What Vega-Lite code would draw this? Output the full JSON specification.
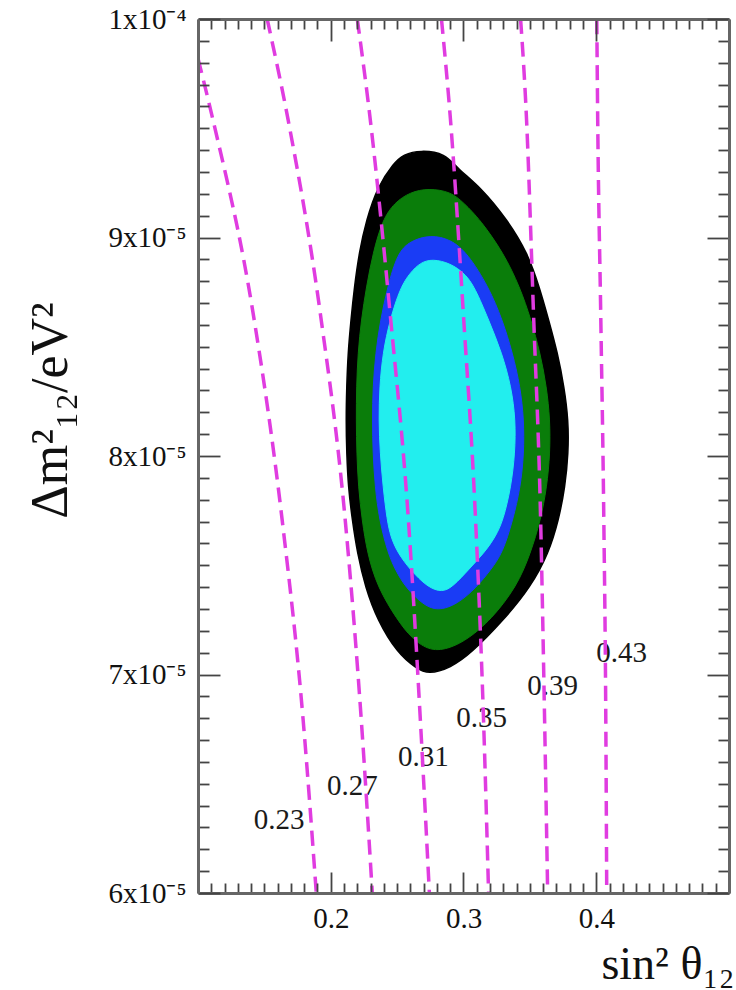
{
  "$schema": "https://vega.github.io/schema/vega-lite/v6.json",
  "width": 531,
  "height": 874,
  "autosize": {"type": "none"},
  "padding": {"left": 198, "top": 19, "right": 7, "bottom": 97},
  "background": "#ffffff",
  "config": {"view": {"stroke": null}, "font": "Liberation Serif"},
  "datasets": {
    "contours": [
      {"c": "black", "i": 1, "s2": 0.2675, "dm2": 9.400e-5},
      {"c": "black", "i": 2, "s2": 0.2864, "dm2": 9.385e-5},
      {"c": "black", "i": 3, "s2": 0.2955, "dm2": 9.315e-5},
      {"c": "black", "i": 4, "s2": 0.3128, "dm2": 9.231e-5},
      {"c": "black", "i": 5, "s2": 0.3332, "dm2": 9.080e-5},
      {"c": "black", "i": 6, "s2": 0.3483, "dm2": 8.929e-5},
      {"c": "black", "i": 7, "s2": 0.3572, "dm2": 8.773e-5},
      {"c": "black", "i": 8, "s2": 0.3642, "dm2": 8.622e-5},
      {"c": "black", "i": 9, "s2": 0.3709, "dm2": 8.471e-5},
      {"c": "black", "i": 10, "s2": 0.3758, "dm2": 8.316e-5},
      {"c": "black", "i": 11, "s2": 0.3790, "dm2": 8.165e-5},
      {"c": "black", "i": 12, "s2": 0.3790, "dm2": 8.014e-5},
      {"c": "black", "i": 13, "s2": 0.3765, "dm2": 7.858e-5},
      {"c": "black", "i": 14, "s2": 0.3717, "dm2": 7.707e-5},
      {"c": "black", "i": 15, "s2": 0.3642, "dm2": 7.556e-5},
      {"c": "black", "i": 16, "s2": 0.3506, "dm2": 7.400e-5},
      {"c": "black", "i": 17, "s2": 0.3302, "dm2": 7.249e-5},
      {"c": "black", "i": 18, "s2": 0.3060, "dm2": 7.098e-5},
      {"c": "black", "i": 19, "s2": 0.2902, "dm2": 7.030e-5},
      {"c": "black", "i": 20, "s2": 0.2736, "dm2": 7.000e-5},
      {"c": "black", "i": 21, "s2": 0.2640, "dm2": 7.030e-5},
      {"c": "black", "i": 22, "s2": 0.2502, "dm2": 7.098e-5},
      {"c": "black", "i": 23, "s2": 0.2351, "dm2": 7.249e-5},
      {"c": "black", "i": 24, "s2": 0.2260, "dm2": 7.400e-5},
      {"c": "black", "i": 25, "s2": 0.2200, "dm2": 7.556e-5},
      {"c": "black", "i": 26, "s2": 0.2162, "dm2": 7.707e-5},
      {"c": "black", "i": 27, "s2": 0.2132, "dm2": 7.858e-5},
      {"c": "black", "i": 28, "s2": 0.2120, "dm2": 8.014e-5},
      {"c": "black", "i": 29, "s2": 0.2115, "dm2": 8.165e-5},
      {"c": "black", "i": 30, "s2": 0.2120, "dm2": 8.316e-5},
      {"c": "black", "i": 31, "s2": 0.2130, "dm2": 8.471e-5},
      {"c": "black", "i": 32, "s2": 0.2152, "dm2": 8.622e-5},
      {"c": "black", "i": 33, "s2": 0.2178, "dm2": 8.773e-5},
      {"c": "black", "i": 34, "s2": 0.2213, "dm2": 8.929e-5},
      {"c": "black", "i": 35, "s2": 0.2268, "dm2": 9.080e-5},
      {"c": "black", "i": 36, "s2": 0.2351, "dm2": 9.231e-5},
      {"c": "black", "i": 37, "s2": 0.2475, "dm2": 9.341e-5},
      {"c": "black", "i": 38, "s2": 0.2547, "dm2": 9.380e-5},
      {"c": "green", "i": 1, "s2": 0.2736, "dm2": 9.225e-5},
      {"c": "green", "i": 2, "s2": 0.2902, "dm2": 9.210e-5},
      {"c": "green", "i": 3, "s2": 0.3000, "dm2": 9.160e-5},
      {"c": "green", "i": 4, "s2": 0.3128, "dm2": 9.080e-5},
      {"c": "green", "i": 5, "s2": 0.3302, "dm2": 8.929e-5},
      {"c": "green", "i": 6, "s2": 0.3425, "dm2": 8.773e-5},
      {"c": "green", "i": 7, "s2": 0.3510, "dm2": 8.622e-5},
      {"c": "green", "i": 8, "s2": 0.3578, "dm2": 8.471e-5},
      {"c": "green", "i": 9, "s2": 0.3626, "dm2": 8.316e-5},
      {"c": "green", "i": 10, "s2": 0.3652, "dm2": 8.165e-5},
      {"c": "green", "i": 11, "s2": 0.3652, "dm2": 8.014e-5},
      {"c": "green", "i": 12, "s2": 0.3628, "dm2": 7.858e-5},
      {"c": "green", "i": 13, "s2": 0.3581, "dm2": 7.707e-5},
      {"c": "green", "i": 14, "s2": 0.3506, "dm2": 7.556e-5},
      {"c": "green", "i": 15, "s2": 0.3400, "dm2": 7.400e-5},
      {"c": "green", "i": 16, "s2": 0.3204, "dm2": 7.249e-5},
      {"c": "green", "i": 17, "s2": 0.3040, "dm2": 7.165e-5},
      {"c": "green", "i": 18, "s2": 0.2902, "dm2": 7.120e-5},
      {"c": "green", "i": 19, "s2": 0.2751, "dm2": 7.105e-5},
      {"c": "green", "i": 20, "s2": 0.2610, "dm2": 7.165e-5},
      {"c": "green", "i": 21, "s2": 0.2502, "dm2": 7.249e-5},
      {"c": "green", "i": 22, "s2": 0.2351, "dm2": 7.400e-5},
      {"c": "green", "i": 23, "s2": 0.2275, "dm2": 7.556e-5},
      {"c": "green", "i": 24, "s2": 0.2236, "dm2": 7.707e-5},
      {"c": "green", "i": 25, "s2": 0.2208, "dm2": 7.858e-5},
      {"c": "green", "i": 26, "s2": 0.2196, "dm2": 8.014e-5},
      {"c": "green", "i": 27, "s2": 0.2192, "dm2": 8.165e-5},
      {"c": "green", "i": 28, "s2": 0.2194, "dm2": 8.316e-5},
      {"c": "green", "i": 29, "s2": 0.2205, "dm2": 8.471e-5},
      {"c": "green", "i": 30, "s2": 0.2230, "dm2": 8.622e-5},
      {"c": "green", "i": 31, "s2": 0.2268, "dm2": 8.773e-5},
      {"c": "green", "i": 32, "s2": 0.2318, "dm2": 8.929e-5},
      {"c": "green", "i": 33, "s2": 0.2389, "dm2": 9.080e-5},
      {"c": "green", "i": 34, "s2": 0.2480, "dm2": 9.160e-5},
      {"c": "green", "i": 35, "s2": 0.2600, "dm2": 9.208e-5},
      {"c": "blue", "i": 1, "s2": 0.2751, "dm2": 9.012e-5},
      {"c": "blue", "i": 2, "s2": 0.2902, "dm2": 8.992e-5},
      {"c": "blue", "i": 3, "s2": 0.3030, "dm2": 8.929e-5},
      {"c": "blue", "i": 4, "s2": 0.3190, "dm2": 8.773e-5},
      {"c": "blue", "i": 5, "s2": 0.3294, "dm2": 8.622e-5},
      {"c": "blue", "i": 6, "s2": 0.3370, "dm2": 8.471e-5},
      {"c": "blue", "i": 7, "s2": 0.3428, "dm2": 8.316e-5},
      {"c": "blue", "i": 8, "s2": 0.3455, "dm2": 8.165e-5},
      {"c": "blue", "i": 9, "s2": 0.3455, "dm2": 8.014e-5},
      {"c": "blue", "i": 10, "s2": 0.3430, "dm2": 7.858e-5},
      {"c": "blue", "i": 11, "s2": 0.3372, "dm2": 7.707e-5},
      {"c": "blue", "i": 12, "s2": 0.3295, "dm2": 7.556e-5},
      {"c": "blue", "i": 13, "s2": 0.3204, "dm2": 7.478e-5},
      {"c": "blue", "i": 14, "s2": 0.3100, "dm2": 7.400e-5},
      {"c": "blue", "i": 15, "s2": 0.2955, "dm2": 7.322e-5},
      {"c": "blue", "i": 16, "s2": 0.2804, "dm2": 7.290e-5},
      {"c": "blue", "i": 17, "s2": 0.2690, "dm2": 7.322e-5},
      {"c": "blue", "i": 18, "s2": 0.2562, "dm2": 7.400e-5},
      {"c": "blue", "i": 19, "s2": 0.2487, "dm2": 7.478e-5},
      {"c": "blue", "i": 20, "s2": 0.2430, "dm2": 7.556e-5},
      {"c": "blue", "i": 21, "s2": 0.2366, "dm2": 7.707e-5},
      {"c": "blue", "i": 22, "s2": 0.2334, "dm2": 7.858e-5},
      {"c": "blue", "i": 23, "s2": 0.2318, "dm2": 8.014e-5},
      {"c": "blue", "i": 24, "s2": 0.2313, "dm2": 8.165e-5},
      {"c": "blue", "i": 25, "s2": 0.2318, "dm2": 8.316e-5},
      {"c": "blue", "i": 26, "s2": 0.2338, "dm2": 8.471e-5},
      {"c": "blue", "i": 27, "s2": 0.2374, "dm2": 8.622e-5},
      {"c": "blue", "i": 28, "s2": 0.2428, "dm2": 8.773e-5},
      {"c": "blue", "i": 29, "s2": 0.2502, "dm2": 8.929e-5},
      {"c": "blue", "i": 30, "s2": 0.2600, "dm2": 8.985e-5},
      {"c": "cyan", "i": 1, "s2": 0.2766, "dm2": 8.902e-5},
      {"c": "cyan", "i": 2, "s2": 0.2902, "dm2": 8.882e-5},
      {"c": "cyan", "i": 3, "s2": 0.3010, "dm2": 8.835e-5},
      {"c": "cyan", "i": 4, "s2": 0.3085, "dm2": 8.773e-5},
      {"c": "cyan", "i": 5, "s2": 0.3190, "dm2": 8.622e-5},
      {"c": "cyan", "i": 6, "s2": 0.3290, "dm2": 8.471e-5},
      {"c": "cyan", "i": 7, "s2": 0.3360, "dm2": 8.316e-5},
      {"c": "cyan", "i": 8, "s2": 0.3392, "dm2": 8.165e-5},
      {"c": "cyan", "i": 9, "s2": 0.3388, "dm2": 8.014e-5},
      {"c": "cyan", "i": 10, "s2": 0.3358, "dm2": 7.858e-5},
      {"c": "cyan", "i": 11, "s2": 0.3300, "dm2": 7.707e-5},
      {"c": "cyan", "i": 12, "s2": 0.3240, "dm2": 7.629e-5},
      {"c": "cyan", "i": 13, "s2": 0.3155, "dm2": 7.556e-5},
      {"c": "cyan", "i": 14, "s2": 0.3035, "dm2": 7.478e-5},
      {"c": "cyan", "i": 15, "s2": 0.2925, "dm2": 7.405e-5},
      {"c": "cyan", "i": 16, "s2": 0.2840, "dm2": 7.375e-5},
      {"c": "cyan", "i": 17, "s2": 0.2728, "dm2": 7.400e-5},
      {"c": "cyan", "i": 18, "s2": 0.2600, "dm2": 7.478e-5},
      {"c": "cyan", "i": 19, "s2": 0.2505, "dm2": 7.556e-5},
      {"c": "cyan", "i": 20, "s2": 0.2452, "dm2": 7.629e-5},
      {"c": "cyan", "i": 21, "s2": 0.2424, "dm2": 7.707e-5},
      {"c": "cyan", "i": 22, "s2": 0.2394, "dm2": 7.858e-5},
      {"c": "cyan", "i": 23, "s2": 0.2372, "dm2": 8.014e-5},
      {"c": "cyan", "i": 24, "s2": 0.2362, "dm2": 8.165e-5},
      {"c": "cyan", "i": 25, "s2": 0.2368, "dm2": 8.316e-5},
      {"c": "cyan", "i": 26, "s2": 0.2392, "dm2": 8.471e-5},
      {"c": "cyan", "i": 27, "s2": 0.2445, "dm2": 8.622e-5},
      {"c": "cyan", "i": 28, "s2": 0.2525, "dm2": 8.773e-5},
      {"c": "cyan", "i": 29, "s2": 0.2600, "dm2": 8.840e-5},
      {"c": "cyan", "i": 30, "s2": 0.2675, "dm2": 8.885e-5}
    ],
    "isolines": [
      {"c": "0.23", "i": 1, "s2": 0.1000, "dm2": 9.82e-5},
      {"c": "0.23", "i": 2, "s2": 0.1113, "dm2": 9.538e-5},
      {"c": "0.23", "i": 3, "s2": 0.1415, "dm2": 8.654e-5},
      {"c": "0.23", "i": 4, "s2": 0.1634, "dm2": 7.707e-5},
      {"c": "0.23", "i": 5, "s2": 0.1792, "dm2": 6.792e-5},
      {"c": "0.23", "i": 6, "s2": 0.1891, "dm2": 6.0e-5},
      {"c": "0.27", "i": 1, "s2": 0.1521, "dm2": 1.0e-4},
      {"c": "0.27", "i": 2, "s2": 0.1679, "dm2": 9.538e-5},
      {"c": "0.27", "i": 3, "s2": 0.1921, "dm2": 8.654e-5},
      {"c": "0.27", "i": 4, "s2": 0.2109, "dm2": 7.707e-5},
      {"c": "0.27", "i": 5, "s2": 0.2230, "dm2": 6.792e-5},
      {"c": "0.27", "i": 6, "s2": 0.2313, "dm2": 6.0e-5},
      {"c": "0.31", "i": 1, "s2": 0.2200, "dm2": 1.0e-4},
      {"c": "0.31", "i": 2, "s2": 0.2298, "dm2": 9.538e-5},
      {"c": "0.31", "i": 3, "s2": 0.2449, "dm2": 8.641e-5},
      {"c": "0.31", "i": 4, "s2": 0.2585, "dm2": 7.707e-5},
      {"c": "0.31", "i": 5, "s2": 0.2675, "dm2": 6.792e-5},
      {"c": "0.31", "i": 6, "s2": 0.2743, "dm2": 6.0e-5},
      {"c": "0.35", "i": 1, "s2": 0.2834, "dm2": 1.0e-4},
      {"c": "0.35", "i": 2, "s2": 0.2902, "dm2": 9.538e-5},
      {"c": "0.35", "i": 3, "s2": 0.3000, "dm2": 8.641e-5},
      {"c": "0.35", "i": 4, "s2": 0.3091, "dm2": 7.707e-5},
      {"c": "0.35", "i": 5, "s2": 0.3151, "dm2": 6.792e-5},
      {"c": "0.35", "i": 6, "s2": 0.3189, "dm2": 6.0e-5},
      {"c": "0.39", "i": 1, "s2": 0.3430, "dm2": 1.0e-4},
      {"c": "0.39", "i": 2, "s2": 0.3475, "dm2": 9.538e-5},
      {"c": "0.39", "i": 3, "s2": 0.3528, "dm2": 8.641e-5},
      {"c": "0.39", "i": 4, "s2": 0.3581, "dm2": 7.707e-5},
      {"c": "0.39", "i": 5, "s2": 0.3611, "dm2": 6.792e-5},
      {"c": "0.39", "i": 6, "s2": 0.3634, "dm2": 6.0e-5},
      {"c": "0.43", "i": 1, "s2": 0.4004, "dm2": 1.0e-4},
      {"c": "0.43", "i": 2, "s2": 0.4011, "dm2": 9.538e-5},
      {"c": "0.43", "i": 3, "s2": 0.4034, "dm2": 8.641e-5},
      {"c": "0.43", "i": 4, "s2": 0.4057, "dm2": 7.707e-5},
      {"c": "0.43", "i": 5, "s2": 0.4072, "dm2": 6.792e-5},
      {"c": "0.43", "i": 6, "s2": 0.4079, "dm2": 6.0e-5}
    ],
    "labels": [
      {"c": "0.23", "s2": 0.1611, "dm2": 6.334e-5},
      {"c": "0.27", "s2": 0.2162, "dm2": 6.490e-5},
      {"c": "0.31", "s2": 0.2698, "dm2": 6.622e-5},
      {"c": "0.35", "s2": 0.3136, "dm2": 6.801e-5},
      {"c": "0.39", "s2": 0.3672, "dm2": 6.947e-5},
      {"c": "0.43", "s2": 0.4192, "dm2": 7.098e-5}
    ]
  },
  "resolve": {"axis": {"x": "independent", "y": "independent"}},
  "layer": [
    {
      "data": {"name": "contours"},
      "transform": [{"filter": "datum.c == 'black'"}],
      "mark": {"type": "line", "interpolate": "basis-closed", "fill": "#000000", "stroke": "#000000", "strokeWidth": 1.5, "clip": true},
      "encoding": {
        "x": {
          "field": "s2", "type": "quantitative",
          "scale": {"domain": [0.1, 0.5], "nice": false, "zero": false},
          "axis": {
            "orient": "bottom",
            "values": [0.1,0.11,0.12,0.13,0.14,0.15,0.16,0.17,0.18,0.19,0.2,0.21,0.22,0.23,0.24,0.25,0.26,0.27,0.28,0.29,0.3,0.31,0.32,0.33,0.34,0.35,0.36,0.37,0.38,0.39,0.4,0.41,0.42,0.43,0.44,0.45,0.46,0.47,0.48,0.49,0.5],
            "tickSize": {"condition": {"test": "abs(datum.value*10 - round(datum.value*10)) < 0.001", "value": -21}, "value": -10},
            "tickColor": "#444444",
            "tickWidth": 1.8,
            "domainColor": "#666666",
            "domainWidth": 3,
            "grid": false,
            "labelExpr": "abs(datum.value*10 - round(datum.value*10)) < 0.001 && datum.value > 0.15 && datum.value < 0.45 ? format(datum.value, '.1f') : ''",
            "labelFont": "Liberation Serif",
            "labelFontSize": 29,
            "labelColor": "#111111",
            "labelBaseline": "top",
            "labelPadding": 32,
            "labelFlush": false,
            "labelOverlap": false,
            "labelBound": false,
            "title": "sin² θ₁₂",
            "titleFont": "Liberation Serif",
            "titleFontSize": 46,
            "titleFontWeight": "normal",
            "titleColor": "#111111",
            "titleAlign": "right",
            "titleBaseline": "alphabetic",
            "titleX": 536,
            "titleY": 85,
            "zindex": 1
          }
        },
        "y": {
          "field": "dm2", "type": "quantitative",
          "scale": {"domain": [6e-5, 1e-4], "nice": false, "zero": false},
          "axis": {
            "orient": "left",
            "values": [6e-5,6.1e-5,6.2e-5,6.3e-5,6.4e-5,6.5e-5,6.6e-5,6.7e-5,6.8e-5,6.9e-5,7e-5,7.1e-5,7.2e-5,7.3e-5,7.4e-5,7.5e-5,7.6e-5,7.7e-5,7.8e-5,7.9e-5,8e-5,8.1e-5,8.2e-5,8.3e-5,8.4e-5,8.5e-5,8.6e-5,8.7e-5,8.8e-5,8.9e-5,9e-5,9.1e-5,9.2e-5,9.3e-5,9.4e-5,9.5e-5,9.6e-5,9.7e-5,9.8e-5,9.9e-5,1e-4],
            "tickSize": {"condition": {"test": "abs(datum.value*100000 - round(datum.value*100000)) < 0.01", "value": -22}, "value": -11},
            "tickColor": "#444444",
            "tickWidth": 1.8,
            "domainColor": "#666666",
            "domainWidth": 3,
            "grid": false,
            "labelExpr": "abs(datum.value*100000 - round(datum.value*100000)) < 0.01 ? (datum.value > 0.0000995 ? '1x10⁻⁴' : round(datum.value*100000) + 'x10⁻⁵') : ''",
            "labelFont": "Liberation Serif",
            "labelFontSize": 29,
            "labelColor": "#111111",
            "labelBaseline": "middle",
            "labelPadding": 34,
            "labelFlush": false,
            "labelOverlap": false,
            "labelBound": false,
            "title": "Δm²₁₂/eV²",
            "titleFont": "Liberation Serif",
            "titleFontSize": 52,
            "titleFontWeight": "normal",
            "titleColor": "#111111",
            "titleAngle": -90,
            "titleAlign": "center",
            "titleBaseline": "middle",
            "titleX": -148,
            "titleY": 391,
            "zindex": 1
          }
        },
        "order": {"field": "i", "type": "quantitative"}
      }
    },
    {
      "data": {"name": "contours"},
      "transform": [{"filter": "datum.c == 'green'"}],
      "mark": {"type": "line", "interpolate": "basis-closed", "fill": "#0a7d0a", "stroke": "#0a7d0a", "strokeWidth": 1, "clip": true},
      "encoding": {
        "x": {"field": "s2", "type": "quantitative", "scale": {"domain": [0.1, 0.5], "nice": false, "zero": false}, "axis": null},
        "y": {"field": "dm2", "type": "quantitative", "scale": {"domain": [6e-5, 1e-4], "nice": false, "zero": false}, "axis": null},
        "order": {"field": "i", "type": "quantitative"}
      }
    },
    {
      "data": {"name": "contours"},
      "transform": [{"filter": "datum.c == 'blue'"}],
      "mark": {"type": "line", "interpolate": "basis-closed", "fill": "#1a3cf5", "stroke": "#1a3cf5", "strokeWidth": 1, "clip": true},
      "encoding": {
        "x": {"field": "s2", "type": "quantitative", "scale": {"domain": [0.1, 0.5], "nice": false, "zero": false}, "axis": null},
        "y": {"field": "dm2", "type": "quantitative", "scale": {"domain": [6e-5, 1e-4], "nice": false, "zero": false}, "axis": null},
        "order": {"field": "i", "type": "quantitative"}
      }
    },
    {
      "data": {"name": "contours"},
      "transform": [{"filter": "datum.c == 'cyan'"}],
      "mark": {"type": "line", "interpolate": "basis-closed", "fill": "#22eeee", "stroke": "#22eeee", "strokeWidth": 1, "clip": true},
      "encoding": {
        "x": {"field": "s2", "type": "quantitative", "scale": {"domain": [0.1, 0.5], "nice": false, "zero": false}, "axis": null},
        "y": {"field": "dm2", "type": "quantitative", "scale": {"domain": [6e-5, 1e-4], "nice": false, "zero": false}, "axis": null},
        "order": {"field": "i", "type": "quantitative"}
      }
    },
    {
      "data": {"name": "labels"},
      "mark": {"type": "text", "font": "Liberation Serif", "fontSize": 29, "color": "#1a1a1a", "align": "center", "baseline": "middle"},
      "encoding": {
        "x": {"field": "s2", "type": "quantitative", "scale": {"domain": [0.1, 0.5], "nice": false, "zero": false}, "axis": null},
        "y": {"field": "dm2", "type": "quantitative", "scale": {"domain": [6e-5, 1e-4], "nice": false, "zero": false}, "axis": null},
        "text": {"field": "c", "type": "nominal"}
      }
    },
    {
      "data": {"name": "isolines"},
      "mark": {"type": "line", "interpolate": "monotone", "color": "#e03ce0", "strokeWidth": 3.5, "strokeDash": [15, 8], "clip": true},
      "encoding": {
        "x": {
          "field": "s2", "type": "quantitative",
          "scale": {"domain": [0.1, 0.5], "nice": false, "zero": false},
          "axis": {
            "orient": "top",
            "values": [0.1,0.11,0.12,0.13,0.14,0.15,0.16,0.17,0.18,0.19,0.2,0.21,0.22,0.23,0.24,0.25,0.26,0.27,0.28,0.29,0.3,0.31,0.32,0.33,0.34,0.35,0.36,0.37,0.38,0.39,0.4,0.41,0.42,0.43,0.44,0.45,0.46,0.47,0.48,0.49,0.5],
            "tickSize": {"condition": {"test": "abs(datum.value*10 - round(datum.value*10)) < 0.001", "value": -22}, "value": -10},
            "tickColor": "#444444",
            "tickWidth": 1.8,
            "domainColor": "#666666",
            "domainWidth": 3,
            "grid": false,
            "labels": false,
            "title": null,
            "zindex": 1
          }
        },
        "y": {
          "field": "dm2", "type": "quantitative",
          "scale": {"domain": [6e-5, 1e-4], "nice": false, "zero": false},
          "axis": {
            "orient": "right",
            "values": [6e-5,6.1e-5,6.2e-5,6.3e-5,6.4e-5,6.5e-5,6.6e-5,6.7e-5,6.8e-5,6.9e-5,7e-5,7.1e-5,7.2e-5,7.3e-5,7.4e-5,7.5e-5,7.6e-5,7.7e-5,7.8e-5,7.9e-5,8e-5,8.1e-5,8.2e-5,8.3e-5,8.4e-5,8.5e-5,8.6e-5,8.7e-5,8.8e-5,8.9e-5,9e-5,9.1e-5,9.2e-5,9.3e-5,9.4e-5,9.5e-5,9.6e-5,9.7e-5,9.8e-5,9.9e-5,1e-4],
            "tickSize": {"condition": {"test": "abs(datum.value*100000 - round(datum.value*100000)) < 0.01", "value": -22}, "value": -11},
            "tickColor": "#444444",
            "tickWidth": 1.8,
            "domainColor": "#666666",
            "domainWidth": 3,
            "grid": false,
            "labels": false,
            "title": null,
            "zindex": 1
          }
        },
        "detail": {"field": "c", "type": "nominal"},
        "order": {"field": "i", "type": "quantitative"}
      }
    }
  ]
}
